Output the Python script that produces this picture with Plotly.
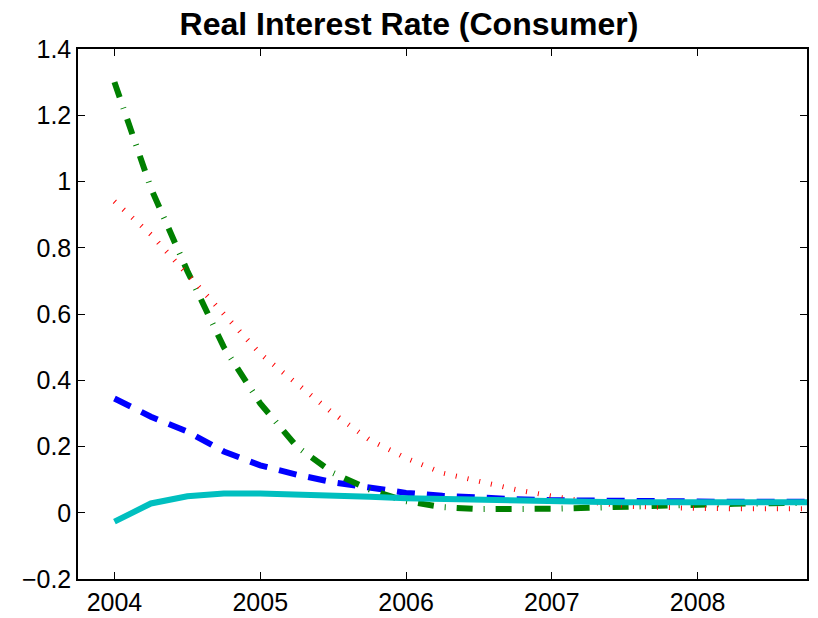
import plotly.graph_objects as go

# --- Data (quarterly, 2004Q1 .. 2008Q4) ---
quarters = [2004.0, 2004.25, 2004.5, 2004.75,
            2005.0, 2005.25, 2005.5, 2005.75,
            2006.0, 2006.25, 2006.5, 2006.75,
            2007.0, 2007.25, 2007.5, 2007.75,
            2008.0, 2008.25, 2008.5, 2008.75]

blue_dashed = [0.345, 0.290, 0.245, 0.185, 0.143, 0.115, 0.092, 0.074,
               0.060, 0.051, 0.045, 0.041, 0.038, 0.036, 0.035, 0.034,
               0.034, 0.033, 0.033, 0.033]
green_dashdot = [1.300, 0.980, 0.730, 0.500, 0.330, 0.200, 0.120, 0.070,
                 0.035, 0.017, 0.011, 0.010, 0.012, 0.015, 0.019, 0.022,
                 0.025, 0.027, 0.029, 0.030]
red_dotted = [0.940, 0.840, 0.720, 0.600, 0.480, 0.390, 0.300, 0.220,
              0.165, 0.120, 0.095, 0.070, 0.050, 0.033, 0.020, 0.015,
              0.013, 0.012, 0.012, 0.012]
cyan_solid = [-0.027, 0.028, 0.050, 0.058, 0.058, 0.056, 0.052, 0.048,
              0.044, 0.041, 0.038, 0.036, 0.034, 0.033, 0.032, 0.032,
              0.032, 0.032, 0.032, 0.032]

x_ticks = [2004, 2005, 2006, 2007, 2008]
x_labels = ["2004", "2005", "2006", "2007", "2008"]
y_ticks = [-0.2, 0, 0.2, 0.4, 0.6, 0.8, 1, 1.2, 1.4]
y_labels = ["\u22120.2", "0", "0.2", "0.4", "0.6", "0.8", "1", "1.2", "1.4"]

FONT = "Liberation Sans, Arial, Helvetica, sans-serif"

fig = go.Figure()

# drawing order: blue, green, red, cyan on top
fig.add_trace(go.Scatter(x=quarters, y=blue_dashed, mode="lines",
                         line=dict(color="#0000ff", width=6, dash="18px,12px")))
fig.add_trace(go.Scatter(x=quarters, y=green_dashdot, mode="lines",
                         line=dict(color="#008000", width=6,
                                   dash="16px,11px,1px,11px")))
fig.add_trace(go.Scatter(x=quarters, y=red_dotted, mode="lines",
                         line=dict(color="#ff0000", width=5, dash="1px,11px")))
fig.add_trace(go.Scatter(x=quarters, y=cyan_solid, mode="lines",
                         line=dict(color="#00bfbf", width=6)))

axis_style = dict(
    showline=True, linecolor="black", linewidth=1.5, mirror="allticks",
    ticks="inside", ticklen=7, tickwidth=1.2, tickcolor="black",
    showgrid=False, zeroline=False, automargin=False,
    tickfont=dict(family=FONT, size=25, color="black"),
)

fig.update_layout(
    width=818, height=618,
    paper_bgcolor="white", plot_bgcolor="white",
    showlegend=False,
    margin=dict(l=78, r=11, t=49, b=39),
    title=dict(text="<b>Real Interest Rate (Consumer)</b>",
               font=dict(family=FONT, size=32, color="black"),
               x=0.5, xanchor="center", y=0.961, yanchor="middle"),
    xaxis=dict(range=[2003.75, 2008.75], tickvals=x_ticks, ticktext=x_labels,
               **axis_style),
    yaxis=dict(range=[-0.2, 1.4], tickvals=y_ticks, ticktext=y_labels,
               **axis_style),
)

# drop the browser's default body margin so the figure sits at the corner
fig.write_html("out.html", config={"displayModeBar": False},
               post_script="document.body.style.margin='0';")
